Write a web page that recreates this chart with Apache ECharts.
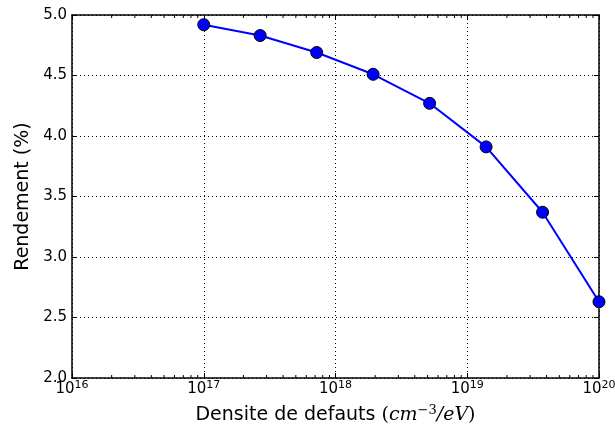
<!DOCTYPE html>
<html>
<head>
<meta charset="utf-8">
<script src="https://cdn.jsdelivr.net/npm/echarts@6/dist/echarts.min.js"></script>
<style>
  html, body { margin: 0; padding: 0; background: #fff; }
  #chart { width: 615px; height: 425px; }
</style>
</head>
<body>
<div id="chart"></div>
<script>
// Defect density (cm^-3/eV), log-spaced from 1e17 to 1e20
const densite = [1e17, 2.68e17, 7.2e17, 1.93e18, 5.18e18, 1.39e19, 3.73e19, 1e20];
// Efficiency (%)
const rendement = [4.92, 4.83, 4.69, 4.51, 4.27, 3.91, 3.37, 2.63];
// Axis ranges
const xRange = [1e16, 1e20];
const yTicks = [2.0, 2.5, 3.0, 3.5, 4.0, 4.5, 5.0];

// Minor tick positions on the log axis (2..9 in each decade)
const minorTicks = [];
for (let d = 16; d < 20; d++) {
  for (let m = 2; m <= 9; m++) minorTicks.push([m * Math.pow(10, d), yTicks[0]]);
}

const FONT = 'DejaVu Sans';
const MATH = 'DejaVu Serif';
const pts = densite.map((x, i) => [x, rendement[i]]);

const supLabel = v => '{b|10}{s|' + Math.round(Math.log10(v)) + '}';
const richSup = {
  b: { fontFamily: FONT, fontSize: 15, color: '#000' },
  s: { fontFamily: FONT, fontSize: 11, color: '#000', verticalAlign: 'bottom', padding: [0, 0, 8, 0] }
};

const frameLine = { show: true, lineStyle: { color: '#000', width: 1.5 } };
const majorTick = { show: true, inside: true, length: 5, lineStyle: { color: '#000', width: 1 } };
const gridLine = { show: true, lineStyle: { color: '#000', type: [1, 3], width: 1 } };

const chart = echarts.init(document.getElementById('chart'), null, { renderer: 'canvas' });
chart.setOption({
  animation: false,
  grid: { left: 72, right: 16, top: 15, bottom: 47, containLabel: false, outerBoundsMode: 'none' },
  xAxis: [{
    type: 'log', logBase: 10, min: xRange[0], max: xRange[1],
    position: 'bottom',
    axisLine: frameLine,
    axisTick: majorTick,
    axisLabel: { formatter: supLabel, rich: richSup, margin: 2, color: '#000' },
    splitLine: gridLine,
    minorTick: { show: false },
    name: 'Densite de defauts {p|(}{i|cm}{s|−3}{i|/eV}{p|)}',
    nameLocation: 'middle', nameGap: 26,
    nameTextStyle: {
      fontFamily: FONT, fontSize: 19, color: '#000',
      rich: {
        p: { fontFamily: MATH, fontSize: 19, color: '#000' },
        i: { fontFamily: MATH, fontStyle: 'italic', fontSize: 19, color: '#000' },
        s: { fontFamily: MATH, fontSize: 13, color: '#000', verticalAlign: 'bottom', padding: [0, 0, 9, 0] }
      }
    }
  }, {
    type: 'log', logBase: 10, min: xRange[0], max: xRange[1],
    position: 'top',
    axisLine: frameLine,
    axisTick: majorTick,
    axisLabel: { show: false },
    splitLine: { show: false }
  }],
  yAxis: [{
    type: 'value', min: yTicks[0], max: yTicks[yTicks.length - 1], interval: 0.5,
    position: 'left',
    axisLine: frameLine,
    axisTick: majorTick,
    axisLabel: { formatter: v => v.toFixed(1), fontFamily: FONT, fontSize: 15, color: '#000', margin: 5 },
    splitLine: gridLine,
    name: 'Rendement {p|(%)}', nameLocation: 'middle', nameGap: 33,
    nameTextStyle: {
      fontFamily: FONT, fontSize: 19, color: '#000',
      rich: { p: { fontFamily: FONT, fontSize: 19, color: '#000' } }
    }
  }, {
    type: 'value', min: yTicks[0], max: yTicks[yTicks.length - 1], interval: 0.5,
    position: 'right',
    axisLine: frameLine,
    axisTick: majorTick,
    axisLabel: { show: false },
    splitLine: { show: false }
  }],
  series: [{
    type: 'custom',
    xAxisIndex: 0, yAxisIndex: 0,
    data: minorTicks,
    clip: false,
    silent: true,
    renderItem: (params, api) => {
      const x = api.value(0);
      const b = api.coord([x, yTicks[0]]);
      const t = api.coord([x, yTicks[yTicks.length - 1]]);
      const style = { stroke: '#000', lineWidth: 1 };
      return {
        type: 'group',
        children: [
          { type: 'line', shape: { x1: b[0], y1: b[1], x2: b[0], y2: b[1] - 3 }, style },
          { type: 'line', shape: { x1: t[0], y1: t[1], x2: t[0], y2: t[1] + 3 }, style }
        ]
      };
    }
  }, {
    type: 'line',
    xAxisIndex: 0, yAxisIndex: 0,
    data: pts,
    symbol: 'circle', symbolSize: 12,
    lineStyle: { color: '#0000ff', width: 2 },
    itemStyle: { color: '#0000ff', borderColor: '#000', borderWidth: 1 },
    clip: false,
    z: 5
  }]
});
</script>
</body>
</html>
